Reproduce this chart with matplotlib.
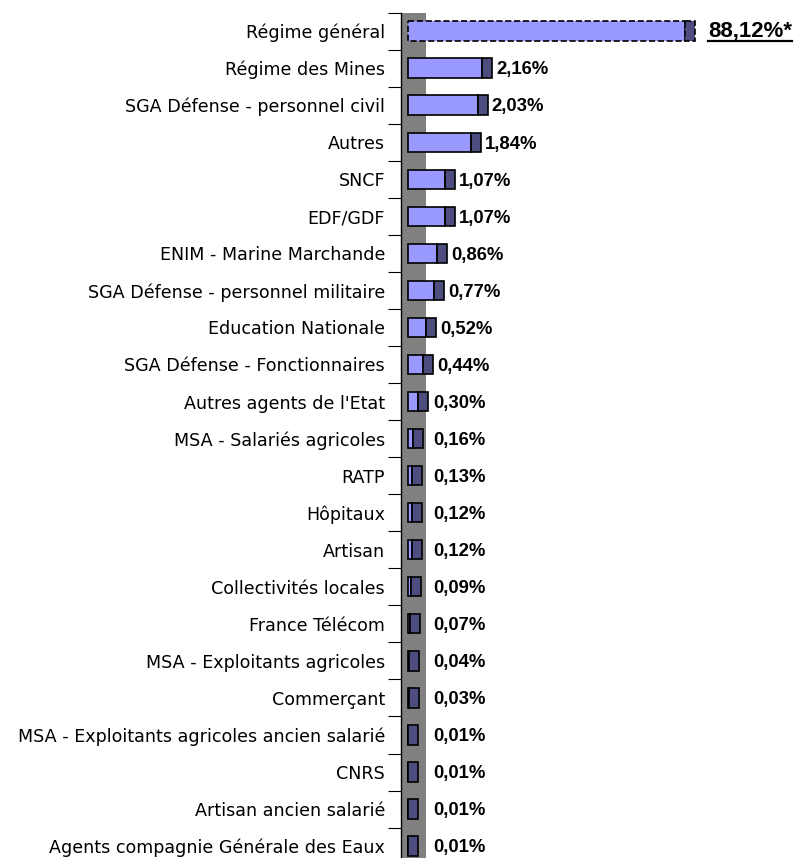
import numpy as np
import matplotlib.pyplot as plt
from matplotlib.lines import Line2D

plt.rcParams['font.family'] = ['Liberation Sans', 'DejaVu Sans']

#%% data
categories = ['Régime général', 'Régime des Mines', 'SGA Défense - personnel civil',
              'Autres', 'SNCF', 'EDF/GDF', 'ENIM - Marine Marchande',
              'SGA Défense - personnel militaire', 'Education Nationale',
              'SGA Défense - Fonctionnaires', "Autres agents de l'Etat",
              'MSA - Salariés agricoles', 'RATP', 'Hôpitaux', 'Artisan',
              'Collectivités locales', 'France Télécom', 'MSA - Exploitants agricoles',
              'Commerçant', 'MSA - Exploitants agricoles ancien salarié', 'CNRS',
              'Artisan ancien salarié', 'Agents compagnie Générale des Eaux']
values = [88.12, 2.16, 2.03, 1.84, 1.07, 1.07, 0.86, 0.77, 0.52, 0.44, 0.30,
          0.16, 0.13, 0.12, 0.12, 0.09, 0.07, 0.04, 0.03, 0.01, 0.01, 0.01, 0.01]
breakAt = 8.08   # the 88,12% bar is cut off at this length

#%% style
light = '#9999FF'
dark = '#4D4D80'
wall = '#808080'
W, H = 794, 858
pxPerUnit = 34.3          # pixels per percent
cap = 10 / pxPerUnit      # dark end face of the 3D bars
barH = 0.52

fig = plt.figure(figsize=(W / 100, H / 100), dpi=100)
axL, axTop = 401, 12.5
rowPx = 37.05
n = len(categories)
axBottom = axTop + n * rowPx
ax = fig.add_axes([axL / W, 1 - axBottom / H, (W - axL) / W, (axBottom - axTop) / H])

x0 = -7 / pxPerUnit
ax.set_xlim(x0, x0 + (W - axL) / pxPerUnit)
ax.set_ylim(n - 0.5, -0.5)

# gray wall of the 3D chart
ax.axvspan(x0, x0 + 25 / pxPerUnit, color=wall, zorder=0, lw=0)

for i, v in enumerate(values):
    shown = min(v, breakAt)
    ls = '--' if v > breakAt else '-'
    ax.barh(i, shown, left=0, height=barH, color=light, edgecolor='k',
            lw=1.2, linestyle=ls, zorder=2)
    ax.barh(i, cap, left=shown, height=barH, color=dark, edgecolor='k',
            lw=1.2, linestyle=ls, zorder=2)
    txt = ('%.2f' % v).replace('.', ',') + '%'
    if v > breakAt:
        big = ax.text(shown + cap + 13 / pxPerUnit, i, txt + '*', ha='left', va='center',
                      fontsize=16, fontweight='bold', zorder=3)
    else:
        xt = max(shown + cap + 4 / pxPerUnit, 25 / pxPerUnit)
        ax.text(xt, i + 0.05, txt, ha='left', va='center',
                fontsize=13.3, fontweight='bold', zorder=3)

# category axis
ax.set_yticks(np.arange(-0.5, n, 1))
ax.set_yticklabels([])
ax.set_yticks(np.arange(n), minor=True)
ax.set_yticklabels(categories, minor=True, fontsize=12.6, family='DejaVu Sans')
ax.tick_params(axis='y', which='major', length=9.4, width=0.8, color='k')
ax.tick_params(axis='y', which='minor', length=0, pad=11.5)
ax.set_xticks([])
for s in ['top', 'right', 'bottom']:
    ax.spines[s].set_visible(False)
ax.spines['left'].set_linewidth(1.0)

# underline the 88,12% label
fig.canvas.draw()
bb = big.get_window_extent()
yU = bb.y0 + 1
fig.add_artist(Line2D([bb.x0 / W, bb.x1 / W], [yU / H, yU / H], color='k', lw=1.6))

plt.savefig('out.png', dpi=100)
